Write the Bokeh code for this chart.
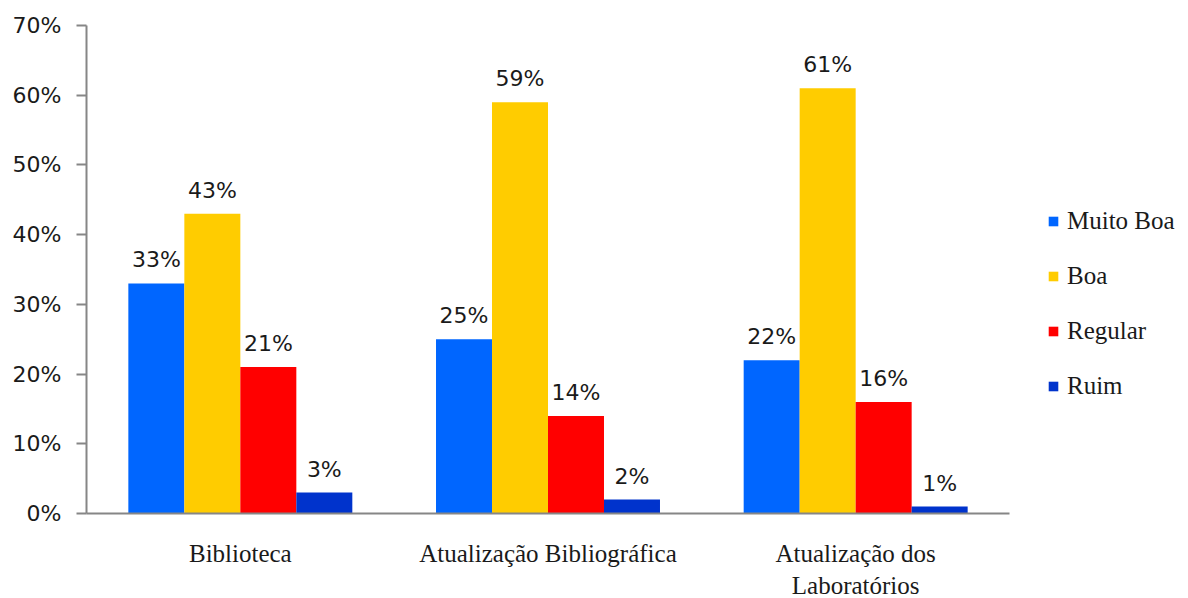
from bokeh.plotting import figure
from bokeh.models import ColumnDataSource, FactorRange, Range1d, NumeralTickFormatter, FixedTicker, Legend, LegendItem
from bokeh.core.properties import value
from bokeh.transform import dodge
from bokeh.embed import file_html
from bokeh.resources import INLINE

categories = ["Biblioteca", "Atualização Bibliográfica", "Atualização dos\nLaboratórios"]
series = ["Muito Boa", "Boa", "Regular", "Ruim"]
muito_boa = [33, 25, 22]
boa = [43, 59, 61]
regular = [21, 14, 16]
ruim = [3, 2, 1]
colors = ["#0066FF", "#FFCC00", "#FF0000", "#0033CC"]
y_ticks = [0, 10, 20, 30, 40, 50, 60, 70]

values = [muito_boa, boa, regular, ruim]

p = figure(x_range=FactorRange(*categories), y_range=Range1d(0, 0.7),
           frame_width=923, frame_height=488,
           min_border_left=86, min_border_top=25, min_border_bottom=60, min_border_right=170,
           output_backend="svg", toolbar_location=None)

bw = 0.182
offsets = [-1.5 * bw, -0.5 * bw, 0.5 * bw, 1.5 * bw]
items = []
for name, vals, col, off in zip(series, values, colors, offsets):
    src = ColumnDataSource(dict(cat=categories, v=[x / 100 for x in vals],
                                lab=["%d%%" % x for x in vals]))
    r = p.vbar(x=dodge("cat", off, range=p.x_range), top="v", width=bw, source=src,
               fill_color=col, line_color=None)
    p.text(x=dodge("cat", off, range=p.x_range), y="v", text="lab", source=src,
           text_align="center", text_baseline="bottom", y_offset=-11,
           text_font_size="22px", text_color="#1a1a1a", text_font=value("DejaVu Sans"))
    items.append(LegendItem(label=name, renderers=[r]))

legend = Legend(items=items, location=(38, 113), label_text_font="Liberation Serif",
                label_text_font_size="25px", label_text_color="#1a1a1a",
                glyph_width=12, glyph_height=12, label_height=20, spacing=27,
                label_standoff=8, border_line_color=None, background_fill_alpha=0,
                padding=0, margin=0)
p.add_layout(legend, "right")

p.xgrid.visible = False
p.ygrid.visible = False
p.outline_line_color = None

p.yaxis.ticker = FixedTicker(ticks=[t / 100 for t in y_ticks])
p.yaxis.formatter = NumeralTickFormatter(format="0%")
p.yaxis.major_label_text_font = "DejaVu Sans"
p.yaxis.major_label_text_font_size = "22px"
p.yaxis.major_label_text_color = "#1a1a1a"
p.yaxis.axis_line_color = "#868686"
p.yaxis.axis_line_width = 2
p.yaxis.major_tick_line_color = "#868686"
p.yaxis.major_tick_line_width = 2
p.yaxis.major_tick_out = 10
p.yaxis.major_tick_in = 0
p.yaxis.minor_tick_line_color = None
p.yaxis.major_label_standoff = 15

p.xaxis.axis_line_color = "#868686"
p.xaxis.axis_line_width = 2
p.xaxis.major_tick_line_color = None
p.xaxis.minor_tick_line_color = None
p.xaxis.major_label_text_font = "Liberation Serif"
p.xaxis.major_label_text_font_size = "25px"
p.xaxis.major_label_text_color = "#1a1a1a"
p.xaxis.major_label_standoff = 20

open("out.html", "w").write(file_html(p, INLINE))
